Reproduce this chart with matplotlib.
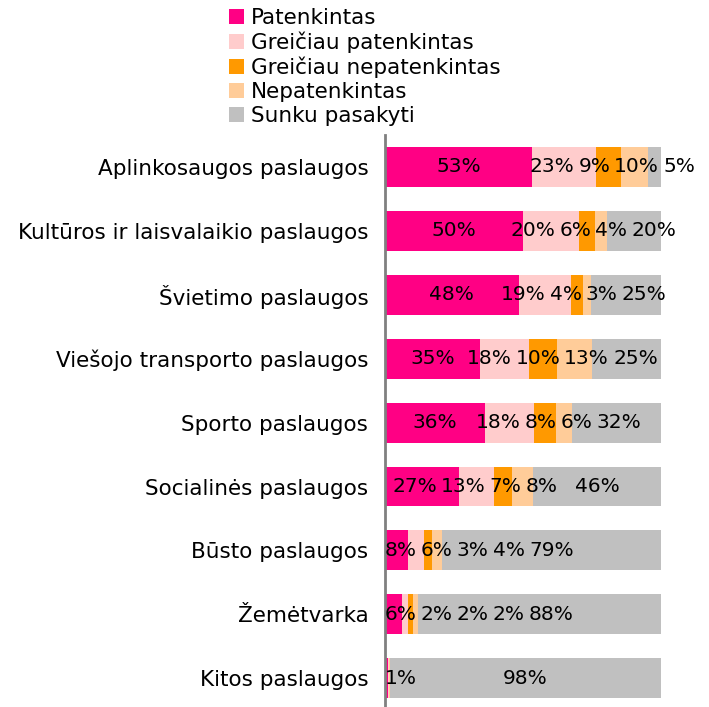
import matplotlib
matplotlib.use("Agg")
import matplotlib.pyplot as plt
import numpy as np

# ---------- DATA ----------
categories = [
    "Aplinkosaugos paslaugos",
    "Kultūros ir laisvalaikio paslaugos",
    "Švietimo paslaugos",
    "Viešojo transporto paslaugos",
    "Sporto paslaugos",
    "Socialinės paslaugos",
    "Būsto paslaugos",
    "Žemėtvarka",
    "Kitos paslaugos",
]
series_names = [
    "Patenkintas",
    "Greičiau patenkintas",
    "Greičiau nepatenkintas",
    "Nepatenkintas",
    "Sunku pasakyti",
]
patenkintas = [53.3, 50.1, 48.4, 34.6, 36.2, 26.9, 8.3, 6.3, 1.2]
greiciau_patenkintas = [23.2, 20.3, 18.9, 17.6, 17.8, 12.6, 5.8, 2.2, 0.2]
greiciau_nepatenkintas = [9.1, 5.8, 4.3, 10.1, 8.0, 6.6, 3.0, 1.6, 0.0]
nepatenkintas = [9.6, 4.2, 3.0, 12.7, 5.6, 7.6, 3.6, 1.8, 0.4]
sunku_pasakyti = [4.8, 19.6, 25.4, 25.0, 32.4, 46.3, 79.3, 88.1, 98.2]
colors = ["#FF0084", "#FFCCCC", "#FF9900", "#FFCC99", "#C0C0C0"]
# ---------------------------

values = np.array([patenkintas, greiciau_patenkintas, greiciau_nepatenkintas,
                   nepatenkintas, sunku_pasakyti], dtype=float)

FS = 15.5      # category / legend text
FS_VAL = 14.5  # value labels

fig = plt.figure(figsize=(7.09, 7.07), dpi=100)
ax = fig.add_axes([385 / 709, 0.0, 276 / 709, 1 - 135 / 707])

y = np.arange(len(categories))
left = np.zeros(len(categories))
for vals, name, col in zip(values, series_names, colors):
    ax.barh(y, vals, left=left, height=0.625, color=col, label=name)
    left += vals

ax.set_xlim(0, 100)
ax.set_ylim(8.45, -0.5)
ax.set_xticks([])
ax.set_yticks(y)
ax.set_yticklabels(categories, fontsize=FS)
ax.tick_params(axis="y", length=0, pad=12)
for s in ["top", "right", "bottom"]:
    ax.spines[s].set_visible(False)
ax.spines["left"].set_color("#808080")
ax.spines["left"].set_linewidth(2)

# value labels, spread apart so they don't overlap
fig.canvas.draw()
renderer = fig.canvas.get_renderer()
px_per_unit = ax.transData.transform((1, 0))[0] - ax.transData.transform((0, 0))[0]
gap = 4 / px_per_unit

for i in range(len(categories)):
    starts = np.concatenate([[0], np.cumsum(values[:, i])[:-1]])
    texts, centers, widths = [], [], []
    for j in range(values.shape[0]):
        v = values[j, i]
        lab = f"{v:.0f}%"
        if lab == "0%":
            continue
        c = starts[j] + v / 2
        t = ax.text(c, i, lab, ha="center", va="center", fontsize=FS_VAL,
                    color="black", clip_on=False)
        w = t.get_window_extent(renderer).width / px_per_unit
        texts.append(t)
        centers.append(c)
        widths.append(w)
    c = list(centers)
    for _ in range(300):
        moved = False
        for k in range(len(c) - 1):
            need = (widths[k] + widths[k + 1]) / 2 + gap
            d = c[k + 1] - c[k]
            if d < need - 1e-6:
                sh = (need - d) / 2
                c[k] -= sh
                c[k + 1] += sh
                moved = True
        if c[0] < widths[0] / 2:
            c[0] = widths[0] / 2
        if not moved:
            break
    for t, cc in zip(texts, c):
        t.set_x(cc)

fig.legend(loc="upper left", bbox_to_anchor=(229 / 709, 1 - 8 / 707),
           frameon=False, fontsize=FS, handlelength=0.7, handleheight=0.7,
           handletextpad=0.3, labelspacing=0.17, borderaxespad=0,
           borderpad=0)

fig.savefig("out.png", dpi=100)
